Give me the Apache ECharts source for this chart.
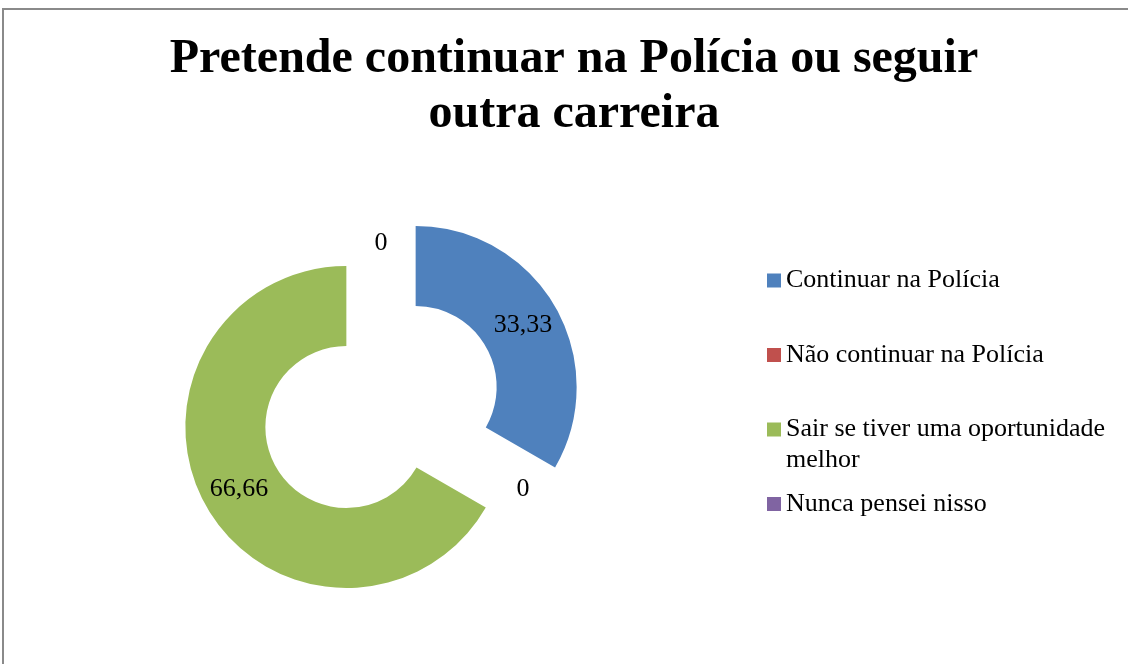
<!DOCTYPE html>
<html>
<head>
<meta charset="utf-8">
<script src="https://cdn.jsdelivr.net/npm/echarts@6/dist/echarts.min.js"></script>
<style>
  html, body { margin: 0; padding: 0; background: #fff; }
  #main { width: 1128px; height: 664px; }
</style>
</head>
<body>
<div id="main"></div>
<script>
var titleText = 'Pretende continuar na Polícia ou seguir\noutra carreira';
var categories = ['Continuar na Polícia', 'Não continuar na Polícia', 'Sair se tiver uma oportunidade melhor', 'Nunca pensei nisso'];
var values = [33.33, 0, 66.66, 0];
var colors = ['#4F81BD', '#C0504D', '#9BBB59', '#8064A2'];

var font = 'Liberation Serif, Times New Roman, serif';
var chart = echarts.init(document.getElementById('main'));

var pieData = categories.map(function (name, i) {
    return {
        name: name,
        value: values[i],
        selected: true,
        itemStyle: { color: colors[i] }
    };
});

// one legend per item so each can sit where the original put it
var lh = 31;
var legendTops = [265, 339.5, 383, 488.5];
var legends = categories.map(function (name, i) {
    var wrap = i === 2;
    return {
        data: [name],
        left: 767,
        top: legendTops[i],
        padding: 0,
        itemWidth: 14,
        itemHeight: 14,
        itemGap: 6,
        icon: 'rect',
        selectedMode: false,
        formatter: function (n) {
            // empty first line keeps the icon level with "Sair ..."
            return wrap ? '\nSair se tiver uma oportunidade\nmelhor' : n;
        },
        textStyle: {
            fontFamily: font,
            fontSize: 26,
            color: '#000',
            lineHeight: lh
        }
    };
});

var option = {
    animation: false,
    title: {
        text: titleText,
        left: 574,
        top: 32,
        padding: 0,
        textAlign: 'center',
        textStyle: {
            fontFamily: font,
            fontSize: 48,
            fontWeight: 'bold',
            color: '#000',
            lineHeight: 55
        }
    },
    legend: legends,
    graphic: [{
        type: 'rect',
        shape: { x: 3, y: 9, width: 1200, height: 720 },
        style: { fill: 'none', stroke: '#8a8a8a', lineWidth: 2 },
        silent: true
    }],
    series: [{
        type: 'pie',
        center: [381, 407],
        radius: [81, 161],
        startAngle: 90,
        selectedMode: 'multiple',
        selectedOffset: 40,
        label: {
            show: true,
            position: 'inside',
            fontFamily: font,
            fontSize: 26,
            color: '#000',
            formatter: function (p) {
                return String(p.value).replace('.', ',');
            }
        },
        labelLine: { show: false },
        emphasis: { scale: false },
        data: pieData
    }]
};

chart.setOption(option);
</script>
</body>
</html>
